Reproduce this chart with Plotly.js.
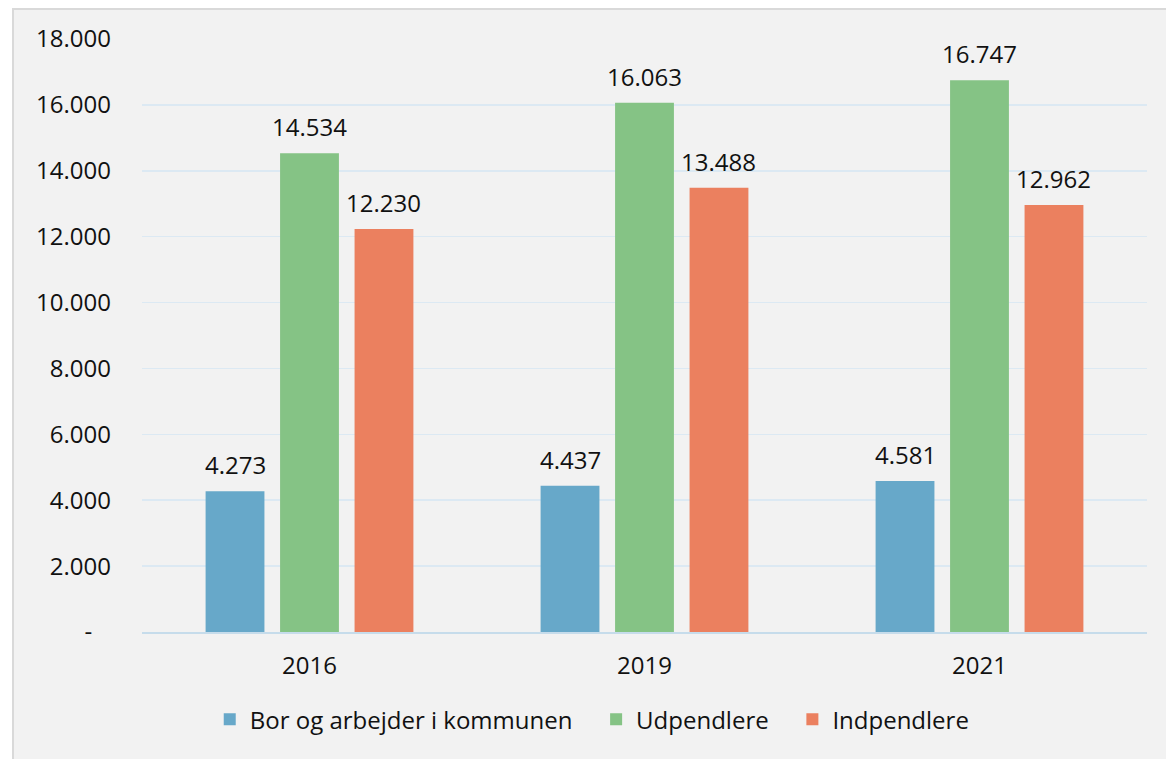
<!DOCTYPE html>
<html>
<head>
<meta charset="utf-8">
<script src="https://cdn.plot.ly/plotly-3.0.1.min.js"></script>
<style>
  html, body { margin: 0; padding: 0; background: #ffffff; width: 1166px; height: 759px; overflow: hidden; }
  #panel { position: absolute; left: 12px; top: 8px; width: 1154px; height: 751px;
           background: #f2f2f2; border-left: 2px solid #d9d9d9; border-top: 2px solid #d9d9d9; box-sizing: border-box; }
  #chart { position: absolute; left: 0; top: 0; width: 1166px; height: 759px; }
</style>
</head>
<body>
<div id="panel"></div>
<div id="chart"></div>
<script>
const categories = ['2016', '2019', '2021'];
const seriesNames = ['Bor og arbejder i kommunen', 'Udpendlere', 'Indpendlere'];
const borOgArbejder = [4273, 4437, 4581];
const udpendlere = [14534, 16063, 16747];
const indpendlere = [12230, 13488, 12962];
const colors = ['#67a8c9', '#85c385', '#eb805f'];
const yTickVals = [0, 2000, 4000, 6000, 8000, 10000, 12000, 14000, 16000, 18000];
const yTickText = ['-\u00a0\u00a0\u00a0', '2.000', '4.000', '6.000', '8.000', '10.000', '12.000', '14.000', '16.000', '18.000'];

const seriesValues = [borOgArbejder, udpendlere, indpendlere];

const W = 1166, H = 759;
const margin = { l: 142, r: 19, t: 39, b: 127 };
const bargap = 0.333, bargroupgap = 0.21;
const legendPad = '\u00a0\u00a0\u00a0';

const traces = seriesValues.map((vals, i) => ({
  type: 'bar',
  name: seriesNames[i] + (i < seriesValues.length - 1 ? legendPad : ''),
  x: categories,
  y: vals,
  marker: { color: colors[i] },
  hoverinfo: 'none'
}));

// value labels placed above each bar, shifted horizontally by the bar's slot within its group
const plotW = W - margin.l - margin.r;
const catW = plotW / categories.length;
const slotW = catW * (1 - bargap) / seriesValues.length;
const fmt = v => v.toString().replace(/\B(?=(\d{3})+(?!\d))/g, '.');
const annotations = [];
seriesValues.forEach((vals, i) => {
  vals.forEach((v, j) => {
    annotations.push({
      x: j, y: v, xref: 'x', yref: 'y',
      text: fmt(v), showarrow: false,
      xanchor: 'center', yanchor: 'bottom',
      xshift: (i - (seriesValues.length - 1) / 2) * slotW,
      yshift: 8,
      font: { family: 'Open Sans', size: 24, color: '#111111' }
    });
  });
});

const layout = {
  width: W,
  height: H,
  paper_bgcolor: 'rgba(0,0,0,0)',
  plot_bgcolor: 'rgba(0,0,0,0)',
  separators: ',.',
  barmode: 'group',
  bargap: bargap,
  bargroupgap: bargroupgap,
  margin: margin,
  font: { family: 'Open Sans', color: '#111111' },
  annotations: annotations,
  xaxis: {
    type: 'category',
    range: [-0.5, categories.length - 0.5],
    autorange: false,
    showgrid: false,
    showline: true,
    linecolor: '#c6dceb',
    linewidth: 2,
    ticks: '',
    ticklabelstandoff: 11,
    tickfont: { family: 'Open Sans', size: 24, color: '#111111' }
  },
  yaxis: {
    range: [0, 18000],
    autorange: false,
    tickvals: yTickVals,
    ticktext: yTickText,
    showgrid: true,
    gridcolor: '#dce9f3',
    gridwidth: 1.5,
    zeroline: false,
    showline: false,
    ticks: '',
    ticklabelstandoff: 30,
    tickfont: { family: 'Open Sans', size: 24, color: '#111111' }
  },
  showlegend: true,
  legend: {
    orientation: 'h',
    x: 0.448,
    xanchor: 'center',
    y: -0.148,
    yanchor: 'middle',
    font: { family: 'Open Sans', size: 24, color: '#111111' },
    bgcolor: 'rgba(0,0,0,0)',
    itemwidth: 30,
    itemclick: false
  }
};

Plotly.newPlot('chart', traces, layout, { staticPlot: true });
</script>
</body>
</html>
